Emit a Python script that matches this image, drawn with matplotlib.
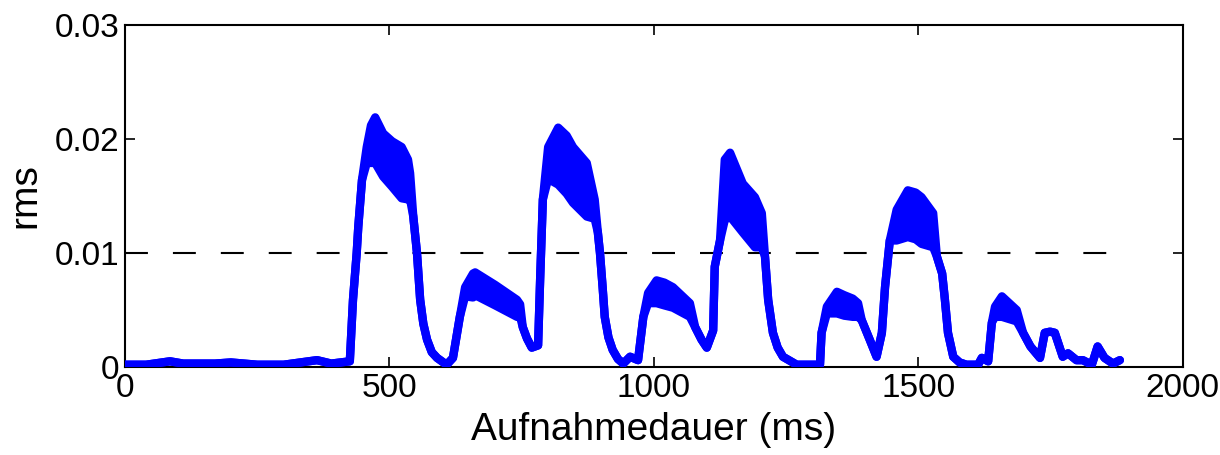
import numpy as np
import matplotlib
matplotlib.use("Agg")
import matplotlib.pyplot as plt

plt.rcParams['font.family'] = ['Liberation Sans', 'DejaVu Sans']

# time (ms), upper and lower envelope of the rms trace
t = [0, 40, 85, 110, 170, 200, 250, 300, 363, 390, 425,
     431, 438, 441, 448, 457, 465, 473, 488, 505, 523, 535, 539, 545, 552, 558, 564, 571, 580, 590, 608,
     620, 633, 643, 658, 662, 700, 741, 747, 752, 760, 769, 781, 785, 790, 800, 819,
     835, 847, 873, 888, 894, 898, 903, 907, 914, 922, 932, 942, 955, 970, 980, 989, 1005, 1020, 1036, 1068,
     1078, 1090, 1100, 1112, 1115, 1125, 1134, 1144, 1168, 1191, 1204, 1210, 1216, 1225, 1234,
     1244, 1270, 1314, 1317, 1327, 1346, 1360, 1376, 1386, 1393, 1408, 1421, 1431, 1437,
     1446, 1459, 1480, 1495, 1506, 1528, 1535, 1545, 1550, 1556, 1566, 1578, 1591, 1613, 1620, 1632,
     1639, 1645, 1658, 1686, 1698, 1712, 1730, 1739, 1749, 1758, 1773, 1783, 1799, 1811,
     1828, 1839, 1852, 1868, 1881]
hi = [0.0002, 0.0002, 0.0005, 0.0003, 0.0003, 0.0004, 0.0002, 0.0002, 0.0006, 0.0003, 0.0005,
      0.0059, 0.0100, 0.0123, 0.0164, 0.0193, 0.0212, 0.0219, 0.0205, 0.0198, 0.0193, 0.0182, 0.0170, 0.0132, 0.0100, 0.0059, 0.0038, 0.0024, 0.0013, 0.0008, 0.0002,
      0.0008, 0.0044, 0.0070, 0.0082, 0.0083, 0.0072, 0.0059, 0.0055, 0.0035, 0.0025, 0.0017, 0.0019, 0.0079, 0.0147, 0.0193, 0.0210,
      0.0203, 0.0193, 0.0179, 0.0147, 0.0118, 0.0100, 0.0070, 0.0044, 0.0026, 0.0015, 0.0007, 0.0003, 0.0009, 0.0006, 0.0044, 0.0065, 0.0076, 0.0074, 0.0070, 0.0056,
      0.0035, 0.0024, 0.0017, 0.0032, 0.0088, 0.0111, 0.0182, 0.0188, 0.0161, 0.0149, 0.0135, 0.0097, 0.0059, 0.0030, 0.0017,
      0.0009, 0.0002, 0.0002, 0.0030, 0.0053, 0.0066, 0.0063, 0.0060, 0.0056, 0.0041, 0.0024, 0.0009, 0.0030, 0.0070,
      0.0111, 0.0138, 0.0155, 0.0153, 0.0149, 0.0135, 0.0097, 0.0082, 0.0060, 0.0030, 0.0009, 0.0004, 0.0002, 0.0002, 0.0008, 0.0005,
      0.0039, 0.0053, 0.0062, 0.0050, 0.0030, 0.0018, 0.0008, 0.0030, 0.0031, 0.0030, 0.0009, 0.0012, 0.0006, 0.0006,
      0.0002, 0.0018, 0.0008, 0.0003, 0.0006]
lo = [0.0002, 0.0002, 0.0005, 0.0003, 0.0003, 0.0004, 0.0002, 0.0002, 0.0006, 0.0003, 0.0005,
      0.0059, 0.0100, 0.0123, 0.0164, 0.0179, 0.0179, 0.0179, 0.0167, 0.0158, 0.0148, 0.0147, 0.0147, 0.0132, 0.0100, 0.0059, 0.0038, 0.0024, 0.0013, 0.0008, 0.0002,
      0.0008, 0.0044, 0.0062, 0.0061, 0.0063, 0.0054, 0.0044, 0.0044, 0.0035, 0.0025, 0.0017, 0.0019, 0.0079, 0.0147, 0.0165, 0.0160,
      0.0152, 0.0144, 0.0132, 0.0130, 0.0118, 0.0100, 0.0070, 0.0044, 0.0026, 0.0015, 0.0007, 0.0003, 0.0009, 0.0006, 0.0044, 0.0056, 0.0056, 0.0054, 0.0052, 0.0044,
      0.0035, 0.0024, 0.0017, 0.0032, 0.0088, 0.0111, 0.0129, 0.0132, 0.0118, 0.0105, 0.0105, 0.0097, 0.0059, 0.0030, 0.0017,
      0.0009, 0.0002, 0.0002, 0.0030, 0.0047, 0.0047, 0.0045, 0.0044, 0.0044, 0.0041, 0.0024, 0.0009, 0.0030, 0.0070,
      0.0111, 0.0111, 0.0114, 0.0112, 0.0108, 0.0105, 0.0097, 0.0082, 0.0060, 0.0030, 0.0009, 0.0004, 0.0002, 0.0002, 0.0008, 0.0005,
      0.0039, 0.0044, 0.0044, 0.0040, 0.0030, 0.0018, 0.0008, 0.0030, 0.0031, 0.0030, 0.0009, 0.0012, 0.0006, 0.0006,
      0.0002, 0.0018, 0.0008, 0.0003, 0.0006]
threshold = 0.01

fig = plt.figure(figsize=(12.2, 4.55), dpi=100)
ax = fig.add_axes([0.1025, 0.1934, 0.867, 0.7516])

ax.plot([0, t[-1]], [threshold, threshold], color='black', lw=1.5,
        linestyle=(0, (11, 12)), zorder=1)
ax.fill_between(t, lo, hi, color='blue', lw=0, zorder=2)
ax.plot(t, hi, color='blue', lw=6, solid_capstyle='round', solid_joinstyle='round', zorder=3)
ax.plot(t, lo, color='blue', lw=6, solid_capstyle='round', solid_joinstyle='round', zorder=3)

ax.set_xlim(0, 2000)
ax.set_ylim(0, 0.03)
ax.set_xticks([0, 500, 1000, 1500, 2000])
ax.set_yticks([0, 0.01, 0.02, 0.03])
ax.set_yticklabels(['0', '0.01', '0.02', '0.03'])
ax.tick_params(direction='in', length=7, width=1.2, labelsize=24,
               top=True, right=True, pad=4)
for s in ax.spines.values():
    s.set_linewidth(1.5)
ax.set_xlabel('Aufnahmedauer (ms)', fontsize=28, labelpad=6)
ax.set_ylabel('rms', fontsize=28, labelpad=8)

fig.savefig('out.png', dpi=100)
